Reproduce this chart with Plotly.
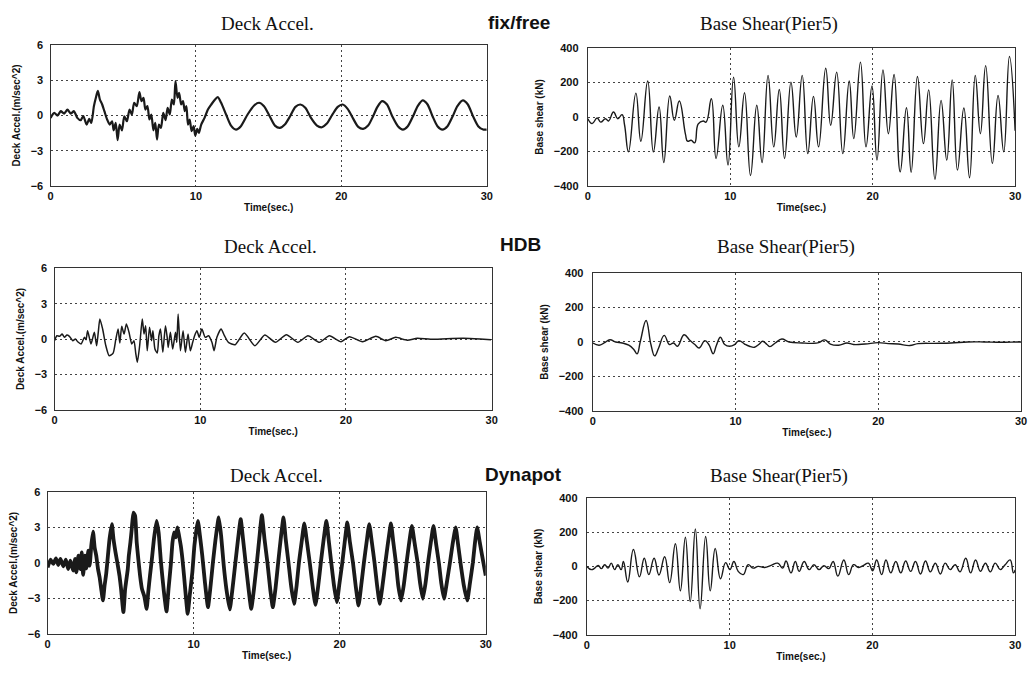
import plotly.graph_objects as go

W, H = 1036, 679

# ---------------- data: time histories (time in s, value) ----------------
fixfree_accel_t = [0, 0.25, 0.48, 0.7, 0.93, 1.16, 1.39, 1.61, 1.84, 2.07, 2.25, 2.48, 2.66, 2.8, 2.98,
                   3.11, 3.25, 3.39, 3.55, 3.7, 3.89, 4.07, 4.23, 4.34, 4.48, 4.61, 4.75, 4.91, 5.07,
                   5.25, 5.43, 5.59, 5.75, 5.93, 6.11, 6.25, 6.39, 6.52, 6.66, 6.8, 6.93, 7.07, 7.2,
                   7.32, 7.45, 7.59, 7.75, 7.91, 8.05, 8.2, 8.34, 8.48, 8.59, 8.73, 8.84, 8.98, 9.11,
                   9.23, 9.34, 9.45, 9.57, 9.7, 9.84, 9.95, 10.09, 10.2, 10.36, 10.59, 10.82, 11.05,
                   11.27, 11.5, 11.73, 12.07, 12.41, 12.75, 13.09, 13.55, 14.0, 14.34, 14.68, 15.07,
                   15.43, 15.77, 16.11, 16.5, 16.84, 17.18, 17.52, 17.91, 18.32, 18.66, 19.0, 19.39,
                   19.75, 20.09, 20.43, 20.82, 21.16, 21.5, 21.84, 22.18, 22.48, 22.8, 23.14, 23.5,
                   23.89, 24.23, 24.57, 24.91, 25.25, 25.59, 25.93, 26.27, 26.61, 26.95, 27.3, 27.64,
                   27.98, 28.36, 28.7, 29.07, 29.41, 29.75, 30.0]
fixfree_accel_v = [-0.2, 0.23, 0.0, 0.37, 0.17, 0.5, 0.17, 0.37, -0.2, -0.4, -0.05, -0.77, -0.29, -0.63, 0.8,
                   1.5, 2.1, 1.37, 0.94, 0.37, -0.34, -0.77, -0.49, -1.26, -0.63, -2.1, -0.77, -1.26, -0.06,
                   -0.49, 0.51, 0.09, 1.09, 0.8, 2.0, 1.23, 1.51, 0.51, 0.8, -0.34, 0.09, -1.26, -0.63,
                   -2.06, -0.77, -1.06, 0.23, -0.4, 0.66, 0.09, 1.37, 0.94, 2.94, 1.51, 1.94, 0.94, 1.23,
                   0.37, 0.8, -0.77, -0.34, -1.34, -0.91, -1.71, -1.14, -1.49, -0.77, -0.2, 0.51, 0.94,
                   1.31, 1.57, 1.09, 0.09, -0.86, -1.2, -0.91, 0.09, 0.86, 1.09, 0.8, -0.06,
                   -0.86, -1.06, -0.77, 0.0, 0.74, 0.94, 0.66, -0.2, -0.86, -1.0, -0.69, 0.09,
                   0.74, 0.94, 0.57, -0.29, -0.97, -1.14, -0.86, -0.06, 0.74, 1.23, 0.94, -0.06,
                   -0.91, -1.2, -0.91, -0.11, 0.8, 1.29, 0.94, -0.06, -0.91, -1.2, -0.91, -0.11,
                   0.8, 1.29, 0.94, -0.11, -0.91, -1.2, -1.2]

fixfree_shear_t = [0, 0.3, 0.65, 0.9, 1.23, 1.45, 1.8, 2.1, 2.4, 2.58, 2.85, 3.37, 3.72, 4.2, 4.6, 5.0, 5.33,
                   5.75, 6.07, 6.42, 6.85, 7.0, 7.25, 7.5, 7.75, 8.1, 8.3, 8.67, 9.0, 9.47, 9.84, 10.23,
                   10.6, 11.0, 11.42, 11.86, 12.23, 12.65, 13.05, 13.44, 13.81, 14.26, 14.63, 15.05,
                   15.44, 15.84, 16.2, 16.7, 17.05, 17.47, 17.9, 18.35, 18.67, 19.14, 19.53, 19.95,
                   20.3, 20.72, 21.1, 21.5, 21.93, 22.37, 22.7, 23.14, 23.56, 23.93, 24.37, 24.8, 25.2,
                   25.58, 25.95, 26.4, 26.8, 27.2, 27.56, 27.93, 28.4, 28.8, 29.2, 29.6, 30.0]
fixfree_shear_v = [-10, -38, -6, -30, -10, -23, 29, -10, 14, -48, -203, 139, -141, 209, -203, 58, -265,
                   122, -19, 93, -100, -141, -135, -150, -40, -23, -30, 106, -241, 68, -280, 232,
                   -174, 141, -340, 68, -265, 242, -174, 160, -241, 203, -116, 242,
                   -213, 120, -174, 284, -48, 261, -213, 209, -126, 319, -174, 180,
                   -251, 274, -97, 247, -319, 54, -321, 236, -155, 158, -363, 97, -251,
                   216, -309, 52, -353, 242, -97, 299, -270, 126, -203, 352, -80]

hdb_accel_t = [0, 0.16, 0.34, 0.52, 0.68, 0.84, 1.02, 1.25, 1.43, 1.59, 1.82, 2.05, 2.16, 2.27, 2.5, 2.73,
               2.89, 3.0, 3.11, 3.3, 3.52, 3.75, 4.02, 4.2, 4.36, 4.48, 4.61, 4.77, 4.93, 5.11, 5.3,
               5.45, 5.57, 5.68, 5.84, 6.02, 6.14, 6.25, 6.36, 6.52, 6.66, 6.75, 6.89, 7.05, 7.16,
               7.27, 7.43, 7.61, 7.73, 7.8, 7.95, 8.11, 8.3, 8.39, 8.48, 8.64, 8.82, 8.98, 9.16,
               9.32, 9.48, 9.61, 9.77, 9.93, 10.11, 10.34, 10.57, 10.8, 10.95, 11.14, 11.43, 11.66,
               11.93, 12.39, 13.02, 13.75, 14.43, 15.16, 15.91, 16.7, 17.39, 18.18, 18.86, 19.66,
               20.23, 21.14, 22.05, 22.73, 23.41, 24.2, 24.89, 25.8, 26.93, 28.07, 29.2, 29.95]
hdb_accel_v = [-0.14, 0.28, 0.23, 0.42, 0.14, 0.34, 0.23, -0.14, 0.0, -0.23, -0.42, 0.14, -0.06, 0.71, -0.42, 0.57,
               -0.57, 0.57, 1.7, 0.85, -0.57, -1.42, -1.19, -0.06, 0.85, -0.34, 1.08, 0.42, 1.27, 0.57, -0.42,
               -0.14, -1.19, -1.98, -0.57, 1.7, 0.42, 1.13, -0.99, 0.99, -0.14, 0.71, -0.85, -1.19, 0.28,
               0.85, -1.13, 1.13, 0.14, -0.71, 0.57, -0.85, 0.57, -0.28, 2.12, -0.99, 0.71, -1.13, 0.42,
               -0.99, -0.28, 0.28, 0.71, 0.14, 0.85, 0.14, 0.28, -0.28, -0.99, 0.14, 0.85, 0.28,
               -0.28, -0.48, 0.51, -0.57, 0.34, -0.28, 0.37, -0.28, 0.28, -0.28, 0.28, -0.23,
               0.2, -0.23, 0.23, -0.14, 0.14, -0.11, 0.06, -0.03, 0.03, 0.06, 0.0, -0.06]

hdb_shear_t = [0, 0.44, 0.79, 1.2, 1.6, 2.06, 2.52, 2.87, 3.1, 3.33, 3.73, 4.07, 4.33, 4.61, 5.0, 5.37, 5.65,
               5.93, 6.39, 6.81, 7.15, 7.45, 7.85, 8.15, 8.43, 8.66, 8.94, 9.24, 9.58, 9.93, 10.23,
               10.63, 10.97, 11.32, 11.62, 11.9, 12.2, 12.41, 12.78, 13.24, 13.75, 14.68, 15.37,
               15.83, 16.25, 16.64, 17.22, 17.8, 18.26, 19.07, 20.0, 20.69, 21.39, 22.2, 22.78,
               23.94, 25.09, 26.25, 27.41, 28.56, 29.72, 30.0]
hdb_shear_v = [-6, -19, -6, 13, 0, -6, -19, -44, -69, 4, 125, -15, -81, -35, 38, -15, -6,
               -25, 42, 8, -15, -35, 8, -19, -69, -19, 27, -15, -25, -15, 8,
               -12, -25, -31, -15, 4, -15, -27, -6, 17, 0, -6, -8,
               -4, 12, -12, -19, -6, -15, -12, -4, -10, -12, -21, -10,
               -8, -6, 0, 0, -2, 0, 0]

dynapot_accel_t = [0, 0.2, 0.39, 0.57, 0.73, 0.88, 1.07, 1.25, 1.41, 1.56, 1.75, 1.88, 1.97, 2.11, 2.24,
                   2.34, 2.43, 2.56, 2.65, 2.79, 2.88, 2.99, 3.11, 3.22, 3.33, 3.45, 3.56, 3.67, 3.79,
                   3.9, 4.01, 4.13, 4.24, 4.4, 4.51, 4.65, 4.81, 4.92, 5.03, 5.19, 5.31, 5.37, 5.49,
                   5.56, 5.67, 5.76, 5.87, 5.99, 6.1, 6.21, 6.33, 6.46, 6.62, 6.78, 6.89, 7.01, 7.14,
                   7.28, 7.46, 7.6, 7.76, 7.94, 8.14, 8.28, 8.44, 8.55, 8.66, 8.78, 8.89, 9.0, 9.12,
                   9.23, 9.34, 9.46, 9.59, 9.73, 9.91, 10.05, 10.18, 10.29, 10.43, 10.59, 10.77, 10.98,
                   11.16, 11.32, 11.5, 11.72, 11.88, 12.06, 12.24, 12.47, 12.63, 12.86, 13.04, 13.22,
                   13.38, 13.58, 13.76, 13.94, 14.13, 14.33, 14.49, 14.67, 14.85, 15.06, 15.24, 15.42,
                   15.6, 15.8, 15.96, 16.15, 16.3, 16.49, 16.67, 16.87, 17.05, 17.21, 17.39, 17.57,
                   17.76, 17.96, 18.14, 18.34, 18.53, 18.71, 18.89, 19.09, 19.25, 19.43, 19.61, 19.8,
                   19.98, 20.18, 20.34, 20.52, 20.7, 20.91, 21.09, 21.29, 21.47, 21.66, 21.84, 22.02,
                   22.2, 22.38, 22.56, 22.74, 22.93, 23.13, 23.31, 23.51, 23.67, 23.85, 24.01, 24.2,
                   24.38, 24.58, 24.76, 24.94, 25.12, 25.33, 25.51, 25.69, 25.87, 26.05, 26.24, 26.42,
                   26.6, 26.8, 26.96, 27.14, 27.32, 27.55, 27.73, 27.94, 28.1, 28.28, 28.5, 28.73,
                   28.91, 29.12, 29.25, 29.41, 29.59, 29.75, 30.0]
dynapot_accel_v = [-0.37, 0.28, -0.08, 0.39, -0.17, 0.34, -0.28, 0.28, -0.51, 0.2, -0.65, 0.34, -0.79, 0.62, -0.51,
                   0.9, -1.01, 0.62, -0.45, 1.04, -0.23, 1.46, 2.65, 1.32, 0.62, -0.51, -1.21, -2.2, -3.18,
                   -1.92, -0.93, 0.62, 2.03, 3.3, 2.03, 0.9, -0.23, -1.07, -2.2, -4.17, -2.2, -1.63, -0.51,
                   0.62, 1.75, 2.87, 4.28, 4.0, 1.75, 0.34, -1.07, -2.2, -2.82, -3.89, -2.48, -1.07, 0.34,
                   2.03, 3.58, 2.59, 0.06, -2.2, -4.11, -2.2, -0.08, 1.75, 2.59, 2.17, 3.01, 2.31, 1.46,
                   0.34, -1.07, -2.76, -4.31, -2.76, -0.79, 1.46, 2.73, 3.58, 2.31, 0.62, -1.63, -3.75,
                   -1.92, 0.06, 2.03, 3.86, 2.31, -0.23, -2.2, -3.94, -2.48, 0.06, 2.03, 3.72,
                   2.03, -0.23, -2.2, -3.89, -2.2, 0.06, 2.03, 4.06, 2.03, -0.08, -2.2, -3.75,
                   -2.2, 0.2, 2.03, 3.86, 2.03, 0.06, -1.92, -3.46, -1.92, 0.06, 1.75, 3.35,
                   1.75, -0.08, -1.92, -3.55, -1.92, 0.06, 1.89, 3.58, 1.89, -0.08, -1.92, -3.32,
                   -1.77, 0.06, 1.75, 3.44, 1.75, 0.0, -1.92, -3.61, -1.92, 0.06, 1.75, 3.3,
                   1.75, 0.06, -1.92, -3.46, -1.92, 0.06, 1.75, 3.35, 1.75, 0.0, -1.92, -3.18,
                   -1.92, 0.06, 1.75, 3.15, 1.75, 0.06, -1.77, -3.04, -1.77, 0.06, 1.75, 3.15,
                   1.61, -0.08, -1.77, -3.04, -1.77, 0.06, 1.61, 3.01, 1.61, -0.08, -1.92, -3.18,
                   -1.77, 0.06, 1.61, 3.01, 1.75, 0.62, -1.07]

dynapot_shear_t = [0, 0.32, 0.55, 0.79, 1.02, 1.25, 1.48, 1.71, 1.94, 2.17, 2.4, 2.56, 2.86, 3.26, 3.68,
                   4.02, 4.34, 4.71, 5.05, 5.45, 5.8, 6.2, 6.55, 6.9, 7.24, 7.6, 7.93, 8.32, 8.64, 8.99,
                   9.36, 9.72, 10.02, 10.3, 10.6, 10.95, 11.3, 11.64, 12.0, 12.45, 12.9, 13.37, 13.72,
                   13.95, 14.3, 14.6, 14.87, 15.22, 15.57, 15.91, 16.26, 16.6, 16.95, 17.25, 17.58,
                   18.0, 18.34, 18.68, 19.03, 19.38, 19.72, 20.02, 20.3, 20.65, 20.95, 21.29, 21.64,
                   21.99, 22.33, 22.68, 23.02, 23.37, 23.72, 24.06, 24.41, 24.76, 25.1, 25.45, 25.8,
                   26.14, 26.54, 26.88, 27.23, 27.57, 27.92, 28.26, 28.61, 28.96, 29.3, 29.65, 29.88,
                   30.0]
dynapot_shear_v = [0, -19, -10, 6, -13, 10, -10, 19, -19, 10, -19, 29, -91, 99, -61,
                   48, -48, 48, -50, 57, -95, 133, -143, 171, -206, 219, -248, 175, -143, 105,
                   -72, 22, -19, 29, -29, -48, 10, -10, 0, -6, 6, 19, -10,
                   32, -38, 29, -29, 29, -19, 10, -19, 4, -13, 29, -57,
                   38, -48, 10, -6, 6, 19, -25, 38, -48, 38, -38, 29,
                   -38, 32, -29, 29, -44, 32, -32, 19, -44, 19, -19, 10,
                   -32, 48, -38, 38, -29, 19, -32, 19, -19, 10, 38, -38,
                   -20]

# ---------------- layout helpers (pixel boxes of the six plot areas) ----------------
def px_x(x):
    return x / W


def px_y(y):
    return 1 - y / H


panels = [
    # (x0, x1, y_top, y_bottom, kind)
    (48, 488, 40, 183, "accel"),
    (590, 1021, 43, 183, "shear"),
    (52, 493, 267, 411, "accel"),
    (595, 1027, 272, 412, "shear"),
    (45, 487, 495, 639, "accel"),
    (589, 1021, 501, 640, "shear"),
]

# (t, values, line width, smoothing)
series = [
    (fixfree_accel_t, fixfree_accel_v, 2.2, 0.7),
    (fixfree_shear_t, fixfree_shear_v, 1.4, 1.3),
    (hdb_accel_t, hdb_accel_v, 1.5, 0.6),
    (hdb_shear_t, hdb_shear_v, 1.4, 1.2),
    (dynapot_accel_t, dynapot_accel_v, 3.8, 0.45),
    (dynapot_shear_t, dynapot_shear_v, 1.4, 1.3),
]

tick_font = dict(family="Liberation Sans, Arial, sans-serif", size=11, color="#111")
label_font = dict(family="Liberation Sans, Arial, sans-serif", size=10, color="#111")

fig = go.Figure()
layout = dict(
    width=W, height=H,
    margin=dict(l=0, r=0, t=0, b=0),
    paper_bgcolor="white", plot_bgcolor="white",
    showlegend=False,
)

for i, ((x0, x1, yt, yb, kind), (t, v, lw, smooth)) in enumerate(zip(panels, series), start=1):
    sfx = "" if i == 1 else str(i)
    fig.add_trace(go.Scatter(
        x=t, y=v, mode="lines",
        line=dict(color="#1a1a1a", width=lw, shape="spline", smoothing=smooth),
        xaxis="x" + sfx, yaxis="y" + sfx, hoverinfo="skip",
    ))
    if kind == "accel":
        yrange, dtick, ytitle = [-6, 6], 3, "<b>Deck Accel.(m/sec^2)</b>"
    else:
        yrange, dtick, ytitle = [-400, 400], 200, "<b>Base shear (kN)</b>"
    common = dict(
        showline=True, linecolor="#333333", linewidth=1.3, mirror=True,
        showgrid=True, gridcolor="#444444", gridwidth=1, griddash="2px,3px",
        zeroline=False, ticks="", tickfont=tick_font, tickprefix="<b>", ticksuffix="</b>",
    )
    layout["xaxis" + sfx] = dict(
        common, domain=[px_x(x0), px_x(x1)], range=[0, 30], dtick=10, tick0=0,
        anchor="y" + sfx,
        title=dict(text="<b>Time(sec.)</b>", font=label_font, standoff=2),
    )
    layout["yaxis" + sfx] = dict(
        common, domain=[px_y(yb), px_y(yt)], range=yrange, dtick=dtick, tick0=0,
        anchor="x" + sfx, ticklabelstandoff=4 if kind == "accel" else 6,
        title=dict(text=ytitle, font=label_font, standoff=8),
    )

fig.update_layout(**layout)

# panel titles and group labels
serif = dict(family="Liberation Serif, Times New Roman, serif", size=19, color="#111")
bold_sans = dict(family="Liberation Sans, Arial, sans-serif", size=19, color="#111")
titles = [
    ("Deck Accel.", 267, 18, serif),
    ("Base Shear(Pier5)", 773, 18, serif),
    ("<b>fix/free</b>", 521, 17, bold_sans),
    ("Deck Accel.", 270, 245, serif),
    ("Base Shear(Pier5)", 790, 245, serif),
    ("<b>HDB</b>", 522, 243, bold_sans),
    ("Deck Accel.", 276, 478, serif),
    ("Base Shear(Pier5)", 783, 478, serif),
    ("<b>Dynapot</b>", 525, 477, bold_sans),
]
for text, cx, cy, font in titles:
    fig.add_annotation(text=text, x=px_x(cx), y=px_y(cy), xref="paper", yref="paper",
                       showarrow=False, xanchor="center", yanchor="middle", font=font)

fig.write_html("out.html")
